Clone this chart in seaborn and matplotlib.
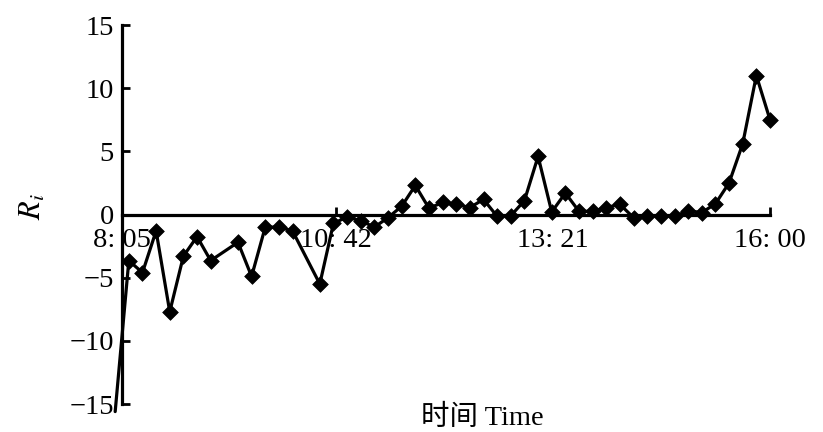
import matplotlib
matplotlib.use("Agg")
import matplotlib.pyplot as plt
import pandas as pd
import seaborn as sns

# ---- data ----
times = ["8:00", "8:10", "8:20", "8:30", "8:40", "8:50", "9:00", "9:10",
         "9:30", "9:40", "9:50", "10:00", "10:10", "10:30", "10:40", "10:50",
         "11:00", "11:10", "11:20", "11:30", "11:40", "11:50", "12:00", "12:10",
         "12:20", "12:30", "12:40", "12:50", "13:00", "13:10", "13:20", "13:30",
         "13:40", "13:50", "14:00", "14:10", "14:20", "14:30", "14:40", "14:50",
         "15:00", "15:10", "15:20", "15:30", "15:40", "15:50", "16:00"]
ri = [-15.6, -3.65, -4.6, -1.3, -7.7, -3.3, -1.75, -3.65,
      -2.2, -4.9, -1.0, -1.0, -1.3, -5.5, -0.7, -0.2,
      -0.5, -1.0, -0.25, 0.65, 2.3, 0.5, 0.95, 0.8,
      0.55, 1.2, -0.15, -0.1, 1.1, 4.6, 0.2, 1.7,
      0.25, 0.25, 0.55, 0.8, -0.25, -0.15, -0.15, -0.15,
      0.3, 0.15, 0.85, 2.5, 5.6, 11.0, 7.5]
tick_times = ["8:05", "10:42", "13:21", "16:00"]
tick_labels = ["8: 05", "10: 42", "13: 21", "16: 00"]
y_ticks = [-15, -10, -5, 0, 5, 10, 15]
x_label = "时间 Time"
y_label = "$R_i$"


def to_min(t):
    h, m = t.split(":")
    return int(h) * 60 + int(m)


df = pd.DataFrame({"minute": [to_min(t) for t in times], "Ri": ri})
tick_pos = [to_min(t) for t in tick_times]
x0, x1 = tick_pos[0], tick_pos[-1]

sns.set_theme(style="ticks")
plt.rcParams["font.family"] = ["Liberation Serif", "Noto Sans CJK SC", "DejaVu Sans"]
plt.rcParams["mathtext.fontset"] = "stix"
for k in ["text.color", "axes.labelcolor", "xtick.color", "ytick.color", "axes.edgecolor"]:
    plt.rcParams[k] = "black"

W, H = 823, 432
fig = plt.figure(figsize=(W / 100, H / 100), dpi=100)
fig.patch.set_facecolor("white")
left, right, top, bottom = 122, 770, 25, 404
ax = fig.add_axes([left / W, (H - bottom) / H, (right - left) / W, (bottom - top) / H])
ax.set_facecolor("white")

sns.lineplot(data=df, x="minute", y="Ri", color="black", lw=2.3,
             ax=ax, clip_on=False, zorder=2)
vis = df[df["minute"] >= x0]
sns.scatterplot(data=vis, x="minute", y="Ri", marker="D", s=64,
                color="black", edgecolor="black", linewidth=0.5,
                ax=ax, clip_on=False, zorder=3)

ax.set_xlim(x0, x1)
ax.set_ylim(y_ticks[0], y_ticks[-1])
ax.set_yticks(y_ticks)
ax.set_xticks(tick_pos)
ax.set_xticklabels(tick_labels)

for s in ["top", "right"]:
    ax.spines[s].set_visible(False)
ax.spines["bottom"].set_position(("data", 0))
ax.spines["bottom"].set_linewidth(2.3)
ax.spines["left"].set_linewidth(2.3)

ax.tick_params(axis="both", direction="in", length=6, width=2, labelsize=20.5)
ax.tick_params(axis="y", pad=6)
ax.tick_params(axis="x", pad=10)

ax.set_xlabel(x_label, fontsize=20.5)
ax.xaxis.set_label_coords((482 - left) / (right - left), -(418 - bottom) / (bottom - top))
ax.xaxis.label.set_va("center")
ax.set_ylabel(y_label, fontsize=22)
ax.yaxis.set_label_coords((33 - left) / (right - left), (bottom - 207) / (bottom - top))
ax.yaxis.label.set_va("center")

fig.savefig("out.png", dpi=100)
